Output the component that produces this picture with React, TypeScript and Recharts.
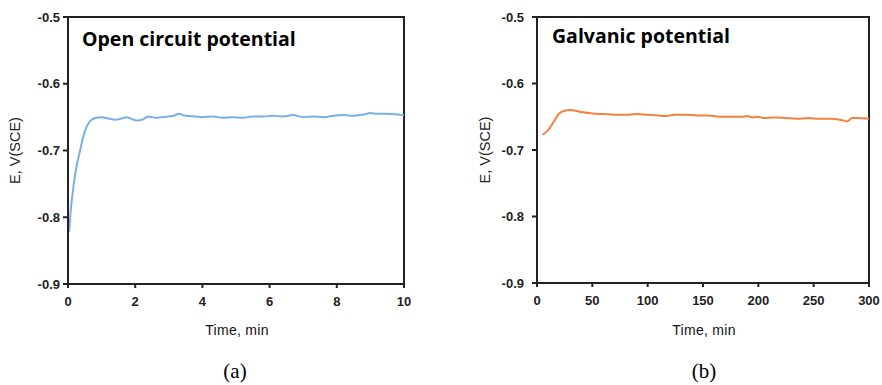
import React from 'react';
import { LineChart, Line, XAxis, YAxis, Label, ReferenceArea } from 'recharts';

// (a) open circuit potential, time in min
const ocpTime = [
  0, 0.03, 0.08, 0.16, 0.25, 0.36, 0.45, 0.55, 0.7, 0.85, 1.0, 1.2, 1.4, 1.6, 1.75, 1.9,
  2.05, 2.2, 2.4, 2.6, 2.8, 3.0, 3.15, 3.3, 3.5, 3.8, 4.0, 4.3, 4.6, 4.9, 5.2, 5.5, 5.8,
  6.1, 6.4, 6.7, 7.0, 7.3, 7.6, 7.9, 8.2, 8.5, 8.8, 9.0, 9.2, 9.5, 9.8, 10,
];
const ocpPotential = [
  -0.812, -0.822, -0.79, -0.755, -0.725, -0.7, -0.68, -0.665, -0.654, -0.651, -0.65, -0.652,
  -0.654, -0.652, -0.65, -0.653, -0.655, -0.654, -0.649, -0.651, -0.65, -0.649, -0.648,
  -0.645, -0.648, -0.649, -0.65, -0.649, -0.651, -0.65, -0.651, -0.649, -0.649, -0.648,
  -0.649, -0.647, -0.65, -0.649, -0.65, -0.648, -0.647, -0.648, -0.646, -0.644, -0.645,
  -0.645, -0.646, -0.647,
];

// (b) galvanic potential, time in min
const galTime = [
  5, 10, 15, 20, 25, 30, 35, 40, 50, 60, 70, 80, 90, 100, 110, 115, 125, 135, 145, 155,
  165, 175, 185, 190, 195, 200, 205, 215, 225, 235, 245, 255, 265, 275, 280, 285, 290, 300,
];
const galPotential = [
  -0.677, -0.67, -0.658, -0.645, -0.641, -0.64, -0.641, -0.643, -0.645, -0.646, -0.647,
  -0.647, -0.646, -0.647, -0.648, -0.649, -0.647, -0.647, -0.648, -0.648, -0.65, -0.65,
  -0.65, -0.649, -0.651, -0.65, -0.652, -0.651, -0.652, -0.653, -0.652, -0.653, -0.653,
  -0.655, -0.657, -0.652, -0.652, -0.653,
];

const yTicks = [-0.9, -0.8, -0.7, -0.6, -0.5];
const ocpXTicks = [0, 2, 4, 6, 8, 10];
const galXTicks = [0, 50, 100, 150, 200, 250, 300];

const ocpData = ocpTime.map((t, i) => ({ t, e: ocpPotential[i] }));
const galData = galTime.map((t, i) => ({ t, e: galPotential[i] }));

const axisColor = '#222';
const tickStyle = {
  fill: '#222',
  fontSize: 13,
  fontWeight: 700,
  fontFamily: '"Liberation Sans", Arial, sans-serif',
};
const titleStyle: React.CSSProperties = {
  position: 'absolute',
  fontFamily: '"Open Sans", sans-serif',
  fontWeight: 700,
  fontSize: 19.5,
  color: '#000',
  whiteSpace: 'nowrap',
};
const xLabelStyle: React.CSSProperties = {
  position: 'absolute',
  fontFamily: '"Liberation Sans", Arial, sans-serif',
  fontSize: 14,
  letterSpacing: 0.3,
  color: '#111',
  transform: 'translateX(-50%)',
  whiteSpace: 'nowrap',
};
const captionStyle: React.CSSProperties = {
  position: 'absolute',
  fontFamily: '"Liberation Serif", "Times New Roman", serif',
  fontSize: 21,
  color: '#000',
  transform: 'translateX(-50%)',
};

interface PanelProps {
  data: { t: number; e: number }[];
  xTicks: number[];
  color: string;
  width: number;
  height: number;
  yAxisWidth: number;
  rightMargin: number;
  xAxisHeight: number;
  labelOffset: number;
  yTickMargin: number;
}

const Panel: React.FC<PanelProps> = ({
  data, xTicks, color, width, height, yAxisWidth, rightMargin, xAxisHeight, labelOffset,
  yTickMargin,
}) => {
  const x0 = xTicks[0];
  const x1 = xTicks[xTicks.length - 1];
  return (
    <LineChart width={width} height={height} data={data}
      margin={{ top: 17, right: rightMargin, left: 0, bottom: 0 }}>
      <XAxis dataKey="t" type="number" domain={[x0, x1]} ticks={xTicks} height={xAxisHeight}
        stroke={axisColor} axisLine={{ stroke: axisColor, strokeWidth: 2 }}
        tickLine={{ stroke: axisColor, strokeWidth: 2 }} tickSize={4} tickMargin={9}
        tick={tickStyle} interval={0} />
      <YAxis type="number" domain={[-0.9, -0.5]} ticks={yTicks} width={yAxisWidth}
        stroke={axisColor} axisLine={{ stroke: axisColor, strokeWidth: 2 }}
        tickLine={{ stroke: axisColor, strokeWidth: 2 }} tickSize={5}
        tickMargin={yTickMargin} tick={tickStyle} interval={0}>
        <Label value="E, V(SCE)" angle={-90} position="insideLeft" offset={labelOffset}
          style={{ textAnchor: 'middle', fill: '#222', fontSize: 14.5,
            fontFamily: '"Liberation Sans", Arial, sans-serif' }} />
      </YAxis>
      {/* box frame around plot area */}
      <ReferenceArea x1={x0} x2={x1} y1={-0.9} y2={-0.5} fill="none" fillOpacity={0}
        stroke={axisColor} strokeWidth={2} ifOverflow="visible" />
      <Line type="monotone" dataKey="e" stroke={color} strokeWidth={2} dot={false}
        isAnimationActive={false} />
    </LineChart>
  );
};

export default function App() {
  return (
    <div style={{ position: 'absolute', left: 0, top: 0, width: 882, height: 385,
      background: '#fff' }}>
      <div style={{ position: 'absolute', left: 0, top: 0 }}>
        <Panel data={ocpData} xTicks={ocpXTicks} color="#78b0e6" width={420} height={320}
          yAxisWidth={68} rightMargin={16} xAxisHeight={36} labelOffset={15}
          yTickMargin={3} />
      </div>
      <div style={{ position: 'absolute', left: 460, top: 0 }}>
        <Panel data={galData} xTicks={galXTicks} color="#f4823c" width={422} height={320}
          yAxisWidth={77} rightMargin={13} xAxisHeight={37} labelOffset={25}
          yTickMargin={8} />
      </div>
      <div style={{ ...titleStyle, left: 82, top: 25 }}>Open circuit potential</div>
      <div style={{ ...titleStyle, left: 552, top: 22 }}>Galvanic potential</div>
      <div style={{ ...xLabelStyle, left: 237, top: 322 }}>Time, min</div>
      <div style={{ ...xLabelStyle, left: 704, top: 322 }}>Time, min</div>
      <div style={{ ...captionStyle, left: 235, top: 359 }}>(a)</div>
      <div style={{ ...captionStyle, left: 704, top: 359 }}>(b)</div>
    </div>
  );
}
